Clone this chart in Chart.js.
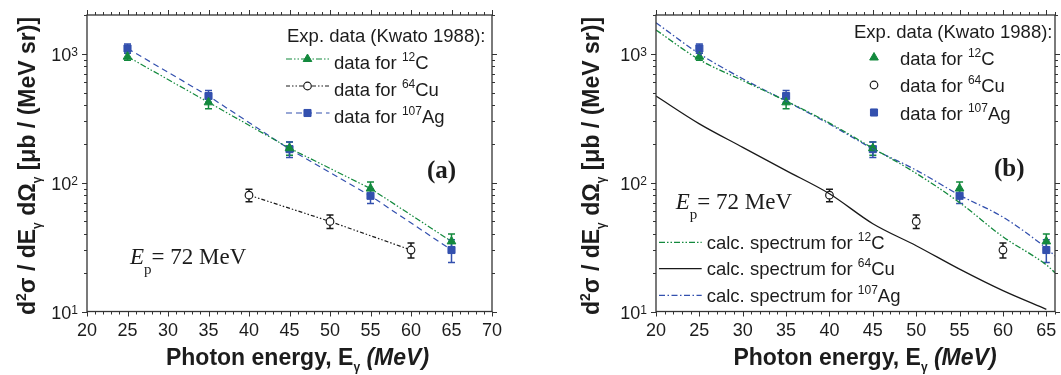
<!DOCTYPE html>
<html><head><meta charset="utf-8">
<script src="https://cdn.jsdelivr.net/npm/chart.js@4.4.0/dist/chart.umd.min.js"></script>
<style>
html,body{margin:0;padding:0;background:#fff;overflow:hidden}
#wrap{position:relative;width:1061px;height:375px;background:#fff}
canvas{position:absolute;top:0}
#ca{left:0}
#cb{left:530px}
</style></head><body>
<div id="wrap"><canvas id="ca" width="530" height="375"></canvas><canvas id="cb" width="531" height="375"></canvas></div>
<script>
// ---------- data ----------
const expEnergies = [25, 35, 45, 55, 65];
const cuEnergies = [40, 50, 60];
const carbonData = [950, 420, 185, 90, 35];
const carbonErr = [60, 45, 22, 11, 5];
const copperData = [80, 50, 30];
const copperErr = [9, 6, 4];
const silverData = [1100, 470, 182, 79, 30];
const silverErr = [90, 50, 25, 10, 6];
const calcEnergies = [20, 25, 30, 35, 40, 45, 50, 55, 60, 65, 66];
const calcCarbon = [1530, 900, 620, 430, 290, 185, 118, 70, 38, 23, 20];
const calcCopper = [470, 286, 188, 124, 82, 48, 32.4, 21.3, 14.5, 10.4];
const calcSilver = [1740, 1000, 640, 430, 285, 183, 125, 80, 54, 31, 27];
const xTicksA = [20, 25, 30, 35, 40, 45, 50, 55, 60, 65, 70];
const xTicksB = [20, 25, 30, 35, 40, 45, 50, 55, 60, 65];
const yTicks = [10, 100, 1000];
const yExponents = ['1', '2', '3'];
const legendHeader = 'Exp. data (Kwato 1988):';
const nuclei = [['12', 'C'], ['64', 'Cu'], ['107', 'Ag']];

// ---------- styles ----------
const SANS = '"Liberation Sans", Arial, sans-serif';
const SERIF = '"Liberation Serif", "Times New Roman", serif';
const GREEN = '#13893d', BLUE = '#3350ae', BLACK = '#1a1a1a', TXT = '#1c1c1c', FRAME = '#333';
const DASH_C = [6, 2, 1.5, 2, 1.5, 2];
const DASH_CU = [4, 2, 1.5, 2, 1.5, 2];
const DASH_AG = [6, 4];
const DASH_CALC_C = [6, 2, 1.5, 2, 1.5, 2];
const DASH_CALC_AG = [6, 2.5, 1.5, 2.5];

const pts = (xs, ys) => ys.map((y, i) => ({x: xs[i], y}));

function richWidth(ctx, parts) {
  let w = 0;
  for (const p of parts) { ctx.font = p.font; w += ctx.measureText(p.t).width; }
  return w;
}
function drawRich(ctx, parts, x, y, align) {
  const w = richWidth(ctx, parts);
  let cx = align === 'center' ? x - w / 2 : align === 'right' ? x - w : x;
  ctx.textAlign = 'left'; ctx.textBaseline = 'alphabetic';
  for (const p of parts) {
    ctx.font = p.font;
    ctx.fillText(p.t, cx, y + (p.dy || 0));
    cx += ctx.measureText(p.t).width;
  }
}
function nucleusParts(prefix, i, size) {
  return [
    {t: prefix, font: `${size}px ${SANS}`},
    {t: nuclei[i][0], font: `${Math.round(size * 0.65)}px ${SANS}`, dy: -8},
    {t: nuclei[i][1], font: `${size}px ${SANS}`}
  ];
}

const errorBarPlugin = {
  id: 'errorBars',
  beforeDatasetsDraw(chart) {
    const ctx = chart.ctx, xs = chart.scales.x, ys = chart.scales.y;
    chart.data.datasets.forEach(ds => {
      if (!ds.errors) return;
      ctx.save();
      ctx.strokeStyle = ds.errColor; ctx.lineWidth = 1.5; ctx.setLineDash([]);
      ds.data.forEach((p, j) => {
        const px = xs.getPixelForValue(p.x);
        const t = ys.getPixelForValue(p.y + ds.errors[j]);
        const b = ys.getPixelForValue(p.y - ds.errors[j]);
        ctx.beginPath();
        ctx.moveTo(px, t); ctx.lineTo(px, b);
        ctx.moveTo(px - 3.5, t); ctx.lineTo(px + 3.5, t);
        ctx.moveTo(px - 3.5, b); ctx.lineTo(px + 3.5, b);
        ctx.stroke();
      });
      ctx.restore();
    });
  }
};

function decorPlugin(cfg) {
  return {
    id: 'decor',
    afterDraw(chart) {
      const ctx = chart.ctx, xs = chart.scales.x, ys = chart.scales.y;
      const {left, right, top, bottom} = chart.chartArea;
      ctx.save();
      // frame
      ctx.strokeStyle = FRAME; ctx.lineWidth = 1.3; ctx.setLineDash([]);
      ctx.strokeRect(left, top, right - left, bottom - top);
      // ticks (outward, mirrored)
      ctx.lineWidth = 1;
      ctx.beginPath();
      for (let v = 20; v <= cfg.xmax; v++) {
        const px = Math.round(xs.getPixelForValue(v)) + 0.5;
        const L = v % 5 === 0 ? 5 : 3;
        ctx.moveTo(px, bottom); ctx.lineTo(px, bottom + L);
        ctx.moveTo(px, top); ctx.lineTo(px, top - L);
      }
      for (const dec of yTicks) {
        for (let m = 1; m <= 9; m++) {
          const v = m * dec;
          if (v > 2000) break;
          const py = Math.round(ys.getPixelForValue(v)) + 0.5;
          const L = m === 1 ? 5 : 3;
          ctx.moveTo(left, py); ctx.lineTo(left - L, py);
          ctx.moveTo(right, py); ctx.lineTo(right + L, py);
        }
      }
      ctx.stroke();
      // tick labels
      ctx.fillStyle = TXT;
      ctx.font = `18px ${SANS}`; ctx.textAlign = 'center'; ctx.textBaseline = 'alphabetic';
      for (const v of cfg.xTicks) ctx.fillText(String(v), xs.getPixelForValue(v), 336);
      yTicks.forEach((v, i) => {
        const py = ys.getPixelForValue(v);
        drawRich(ctx, [
          {t: '10', font: `18px ${SANS}`, dy: 7},
          {t: yExponents[i], font: `12px ${SANS}`, dy: 2}
        ], left - 9, py, 'right');
      });
      // axis titles
      drawRich(ctx, [
        {t: 'Photon energy, E', font: `bold 23px ${SANS}`},
        {t: 'γ', font: `bold 12px ${SANS}`, dy: 6},
        {t: ' (MeV)', font: `italic bold 23px ${SANS}`}
      ], cfg.xTitleX, 365, 'center');
      ctx.save();
      ctx.translate(cfg.yTitleX, 166);
      ctx.rotate(-Math.PI / 2);
      const B = `bold 23px ${SANS}`;
      drawRich(ctx, [
        {t: 'd', font: B},
        {t: '2', font: `bold 14px ${SANS}`, dy: -9},
        {t: 'σ / dE', font: B},
        {t: 'γ', font: `bold 12px ${SANS}`, dy: 6},
        {t: ' dΩ', font: B},
        {t: 'γ', font: `bold 12px ${SANS}`, dy: 6},
        {t: ' [μb / (MeV sr)]', font: B}
      ], 0, 0, 'center');
      ctx.restore();
      // annotations
      drawRich(ctx, [
        {t: 'E', font: `italic 23px ${SERIF}`},
        {t: 'p', font: `15px ${SERIF}`, dy: 10},
        {t: '= 72 MeV', font: `23px ${SERIF}`}
      ], cfg.epX, cfg.epY, 'left');
      ctx.font = `bold 25px ${SERIF}`; ctx.textAlign = 'left';
      ctx.fillText(cfg.panel, cfg.panelX, cfg.panelY);
      // legends
      ctx.font = `18.5px ${SANS}`; ctx.fillStyle = TXT;
      ctx.fillText(legendHeader, cfg.legX, cfg.legHeaderY);
      const dsets = chart.data.datasets;
      cfg.expLegend.forEach((row, i) => {
        const ds = dsets[row.ds];
        if (cfg.legLine) {
          ctx.save();
          ctx.strokeStyle = ds.borderColor; ctx.lineWidth = 1.2; ctx.setLineDash(ds.borderDash || []);
          ctx.beginPath(); ctx.moveTo(cfg.legLine[0], row.my); ctx.lineTo(cfg.legLine[1], row.my); ctx.stroke();
          ctx.restore();
        }
        ctx.save();
        ctx.setLineDash([]);
        ctx.fillStyle = ds.pointBackgroundColor; ctx.strokeStyle = ds.pointBorderColor;
        ctx.lineWidth = ds.pointBorderWidth;
        Chart.helpers.drawPoint(ctx, {pointStyle: ds.pointStyle, radius: ds.pointRadius, rotation: 0, borderWidth: ds.pointBorderWidth}, cfg.legMarkerX, row.my);
        ctx.restore();
        ctx.fillStyle = TXT;
        drawRich(ctx, nucleusParts('data for ', i, 18.5), cfg.legTextX, row.ty, 'left');
      });
      if (cfg.calcLegend) {
        cfg.calcLegend.forEach((row, i) => {
          const ds = dsets[row.ds];
          ctx.save();
          ctx.strokeStyle = ds.borderColor; ctx.lineWidth = 1.3; ctx.setLineDash(ds.borderDash || []);
          ctx.beginPath(); ctx.moveTo(129, row.my); ctx.lineTo(171.7, row.my); ctx.stroke();
          ctx.restore();
          ctx.fillStyle = TXT;
          drawRich(ctx, nucleusParts('calc. spectrum for ', i, 18.5), 176.7, row.ty, 'left');
        });
      }
      ctx.restore();
    }
  };
}

function expDatasets(withLines) {
  return [
    {label: 'data for 12C', data: pts(expEnergies, carbonData), errors: carbonErr, errColor: GREEN,
     borderColor: GREEN, backgroundColor: GREEN, pointBackgroundColor: GREEN, pointBorderColor: GREEN,
     pointBorderWidth: 1, borderDash: DASH_C, borderWidth: 1.2, pointStyle: 'triangle', pointRadius: 5,
     showLine: withLines, tension: 0},
    {label: 'data for 64Cu', data: pts(cuEnergies, copperData), errors: copperErr, errColor: BLACK,
     borderColor: BLACK, backgroundColor: '#fff', pointBackgroundColor: '#fff', pointBorderColor: BLACK,
     pointBorderWidth: 1.2, borderDash: DASH_CU, borderWidth: 1.2, pointStyle: 'circle', pointRadius: 3.8,
     showLine: withLines, tension: 0},
    {label: 'data for 107Ag', data: pts(expEnergies, silverData), errors: silverErr, errColor: BLUE,
     borderColor: BLUE, backgroundColor: BLUE, pointBackgroundColor: BLUE, pointBorderColor: BLUE,
     pointBorderWidth: 1, borderDash: DASH_AG, borderWidth: 1.2, pointStyle: 'rect', pointRadius: 5,
     showLine: withLines, tension: 0}
  ];
}

function options(pad, xmax) {
  return {
    responsive: false, animation: false, devicePixelRatio: 1,
    layout: {padding: pad},
    plugins: {legend: {display: false}, tooltip: {enabled: false}},
    scales: {
      x: {type: 'linear', min: 20, max: xmax, display: false},
      y: {type: 'logarithmic', min: 10, max: 2000, display: false}
    }
  };
}

new Chart(document.getElementById('ca'), {
  type: 'line',
  data: {datasets: expDatasets(true)},
  options: options({left: 87, top: 15, right: 38, bottom: 63.5}, 70),
  plugins: [errorBarPlugin, decorPlugin({
    panel: '(a)', panelX: 427, panelY: 178, xmax: 70, xTicks: xTicksA,
    xTitleX: 297.5, yTitleX: 35, epX: 130, epY: 264,
    legX: 287, legHeaderY: 41.5, legLine: [286, 329.5], legMarkerX: 307.5, legTextX: 334,
    expLegend: [{ds: 0, my: 59, ty: 68.5}, {ds: 1, my: 86, ty: 95.5}, {ds: 2, my: 113, ty: 122.5}]
  })]
});

const calcSets = [
  {label: 'calc. spectrum for 12C', data: pts(calcEnergies, calcCarbon), borderColor: GREEN,
   borderDash: DASH_CALC_C, borderWidth: 1.3, pointRadius: 0, cubicInterpolationMode: 'monotone'},
  {label: 'calc. spectrum for 64Cu', data: pts(calcEnergies, calcCopper), borderColor: BLACK,
   borderDash: [], borderWidth: 1.3, pointRadius: 0, cubicInterpolationMode: 'monotone'},
  {label: 'calc. spectrum for 107Ag', data: pts(calcEnergies, calcSilver), borderColor: BLUE,
   borderDash: DASH_CALC_AG, borderWidth: 1.3, pointRadius: 0, cubicInterpolationMode: 'monotone'}
];

new Chart(document.getElementById('cb'), {
  type: 'line',
  data: {datasets: calcSets.concat(expDatasets(false))},
  options: options({left: 126, top: 15, right: 2.5, bottom: 63.5}, 66),
  plugins: [errorBarPlugin, decorPlugin({
    panel: '(b)', panelX: 464, panelY: 176, xmax: 66, xTicks: xTicksB,
    xTitleX: 335, yTitleX: 68.5, epX: 145.7, epY: 209.3,
    legX: 324, legHeaderY: 38, legLine: null, legMarkerX: 344, legTextX: 370,
    expLegend: [{ds: 3, my: 57.5, ty: 64.5}, {ds: 4, my: 85, ty: 92}, {ds: 5, my: 112.5, ty: 119.5}],
    calcLegend: [{ds: 0, my: 242.3, ty: 248.5}, {ds: 1, my: 268.7, ty: 275}, {ds: 2, my: 295.3, ty: 301.5}]
  })]
});
</script>
</body></html>
